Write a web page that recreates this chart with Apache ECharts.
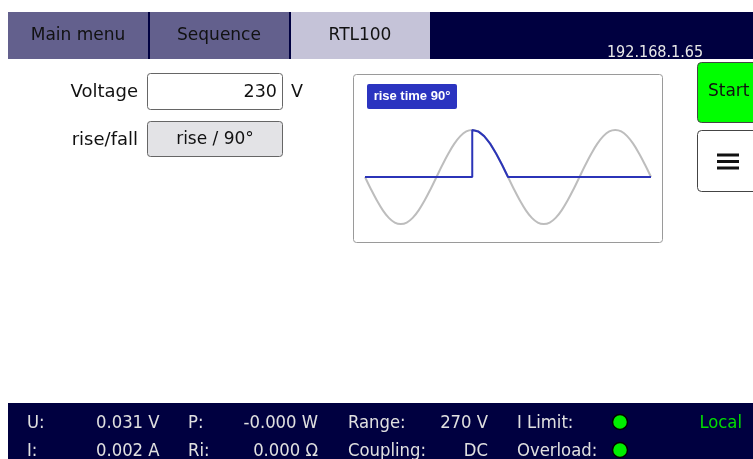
<!DOCTYPE html>
<html><head><meta charset="utf-8">
<script src="https://cdn.jsdelivr.net/npm/echarts@6/dist/echarts.min.js"></script>
<style>html,body{margin:0;padding:0;background:#fff}#c{width:753px;height:459px}</style>
</head><body><div id="c"></div>
<script>
// Phase (degrees) of the reference sine wave, sampled every 15°
var phaseDeg = [0,15,30,45,60,75,90,105,120,135,150,165,180,195,210,225,240,255,270,285,300,315,330,345,360,
  375,390,405,420,435,450,465,480,495,510,525,540,555,570,585,600,615,630,645,660,675,690,705,720];
// Grey reference voltage (normalised)
var refWave = [0,-0.26,-0.5,-0.71,-0.87,-0.97,-1,-0.97,-0.87,-0.71,-0.5,-0.26,0,0.26,0.5,0.71,0.87,0.97,1,0.97,0.87,0.71,0.5,0.26,0,
  -0.26,-0.5,-0.71,-0.87,-0.97,-1,-0.97,-0.87,-0.71,-0.5,-0.26,0,0.26,0.5,0.71,0.87,0.97,1,0.97,0.87,0.71,0.5,0.26,0];
// Blue output (rise at 90° of the positive half wave)
var outPhase = [0,270,270,285,300,315,330,345,360,720];
var outWave  = [0,0,1,0.97,0.87,0.71,0.5,0.26,0,0];

var tabs = ['Main menu','Sequence','RTL100'];
var ipText = '192.168.1.65';
var voltageLabel = 'Voltage', voltageValue = '230', voltageUnit = 'V';
var riseLabel = 'rise/fall', riseValue = 'rise / 90°';
var chartTag = 'rise time 90°';
var row1 = ['U:','0.031 V','P:','-0.000 W','Range:','270 V','I Limit:'];
var row2 = ['I:','0.002 A','Ri:','0.000 Ω','Coupling:','DC','Overload:'];
var localText = 'Local';

var F = 'DejaVu Sans';
var FC = '"DejaVu Sans Condensed", "DejaVu Sans"';
var NAVY = '#000040';
var DY = 2; // vertical text offset

function txt(x,y,t,o){
  o=o||{};
  return {type:'text',x:x,y:y+(o.dy==null?DY:o.dy),z:o.z||10,style:{text:t,fill:o.fill||'#111',font:(o.weight||'normal')+' '+(o.size||17)+'px '+(o.family||F),
    textAlign:o.align||'left',textVerticalAlign:'middle'}};
}
function rect(x,y,w,h,fill,o){
  o=o||{};
  return {type:'rect',z:o.z||5,shape:{x:x,y:y,width:w,height:h,r:o.r||0},style:{fill:fill,stroke:o.stroke||null,lineWidth:o.lw||1}};
}

var g = [];
// top bar
g.push(rect(8,12,745,47,NAVY));
g.push(rect(8,12,140,47,'#63608d'));
g.push(rect(150,12,139,47,'#63608d'));
g.push(rect(291,12,139,47,'#c5c3d8'));
g.push(txt(78,34,tabs[0],{align:'center'}));
g.push(txt(219,34,tabs[1],{align:'center'}));
g.push(txt(360,34,tabs[2],{align:'center'}));
g.push(txt(655,51,ipText,{align:'center',size:16,family:FC,fill:'#e8e8e8'}));

// inputs
g.push(txt(138,90,voltageLabel,{align:'right',size:18}));
g.push(rect(147.5,73.5,135,36,'#fff',{stroke:'#666',r:3}));
g.push(txt(277,90,voltageValue,{align:'right',size:17.5}));
g.push(txt(291,90,voltageUnit,{size:17.5}));
g.push(txt(138,138,riseLabel,{align:'right',size:18}));
g.push(rect(147.5,121.5,135,35,'#e3e3e6',{stroke:'#666',r:3}));
g.push(txt(215,138,riseValue,{align:'center'}));

// chart frame
g.push(rect(353.5,74.5,309,168,'#fff',{stroke:'#9a9a9a',r:3,z:1}));
g.push(rect(367,84,90,25,'#2b34c0',{r:2,z:20}));
g.push(txt(412,96.5,chartTag,{align:'center',size:13,weight:'bold',family:'"Liberation Sans", Arial',fill:'#fff',z:21,dy:0}));

// buttons
g.push(rect(697.5,62.5,62,60,'#00ff00',{stroke:'#444',r:4}));
g.push(txt(708,90,'Start',{size:17}));
g.push(rect(697.5,130.5,62,61,'#fff',{stroke:'#444',r:4}));
[155,161.5,168].forEach(function(y){ g.push(rect(717,y-1.5,22,3,'#111',{z:10})); });

// status bar
g.push(rect(8,403,745,56,NAVY));
var cols = [[27,'left'],[96,'left'],[188,'left'],[318,'right'],[348,'left'],[488,'right'],[517,'left']];
[[row1,421],[row2,449]].forEach(function(r){
  r[0].forEach(function(t,i){ g.push(txt(cols[i][0],r[1],t,{align:cols[i][1],size:18.3,family:FC,fill:'#e0e0e0'})); });
  g.push({type:'circle',z:10,shape:{cx:620,cy:r[1]+1,r:7.5},style:{fill:'#00ee00',stroke:'#000',lineWidth:1.5}});
});
g.push(txt(742,421,localText,{align:'right',size:18.3,family:FC,fill:'#00dd00'}));

var chart = echarts.init(document.getElementById('c'),null,{renderer:'canvas'});
chart.setOption({
  animation:false,
  backgroundColor:'#fff',
  graphic:g,
  grid:{left:365,top:130,width:286,height:94,containLabel:false},
  xAxis:{type:'value',min:0,max:720,show:false},
  yAxis:{type:'value',min:-1,max:1,show:false},
  series:[
    {type:'line',z:2,data:phaseDeg.map(function(p,i){return [p,refWave[i]];}),smooth:0.4,symbol:'none',
     lineStyle:{color:'#bdbdbd',width:2}},
    {type:'line',z:3,data:outPhase.map(function(p,i){return [p,outWave[i]];}),smooth:false,symbol:'none',
     lineStyle:{color:'#2b34b8',width:2}}
  ]
});
</script></body></html>
